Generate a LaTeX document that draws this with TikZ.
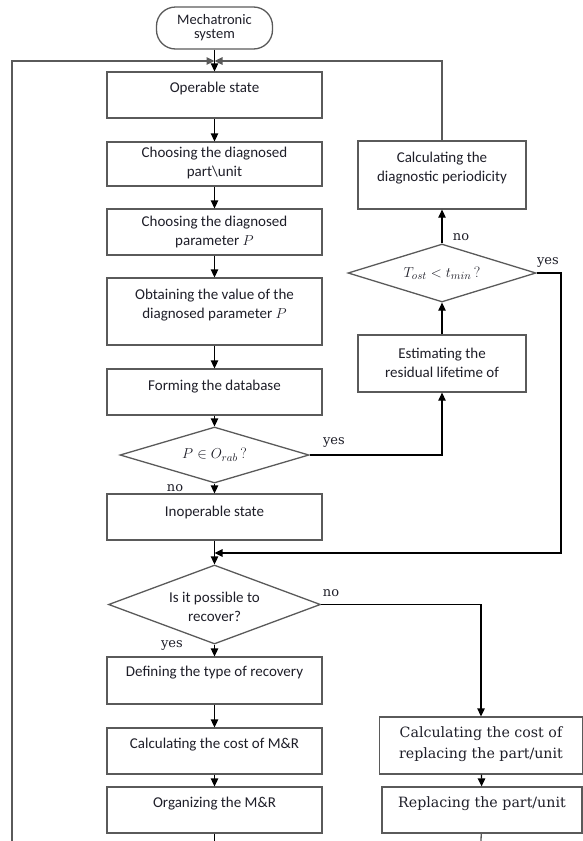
\documentclass[tikz,border=0pt]{standalone}
\usepackage{fontspec}
\setsansfont{Carlito}
\newfontfamily\serifb{DejaVu Serif}
\usetikzlibrary{arrows.meta,shapes.geometric,calc}
\definecolor{bord}{HTML}{5A5A5A}
\definecolor{txtc}{HTML}{1E1E28}
\begin{document}
\begin{tikzpicture}[x=1pt,y=-1pt,
  box/.style={draw=bord, line width=1.3pt, rectangle, inner sep=0pt},
  dia/.style={draw=bord, line width=1.3pt, diamond, inner sep=0pt, aspect=1},
  txt/.style={font=\sffamily\fontsize{15}{19}\selectfont, text=txtc, align=center, inner sep=0pt},
  stxt/.style={font=\serifb\fontsize{14.2}{21}\selectfont, text=txtc, align=center, inner sep=0pt},
  lbl/.style={font=\serifb\fontsize{13}{15}\selectfont, text=txtc, inner sep=0pt},
  arr/.style={line width=1.3pt, -{Triangle[length=8pt,width=7.5pt]}},
  ln/.style={line width=1.3pt},
  gln/.style={line width=1.3pt, draw=bord},
]
\useasboundingbox (0,0) rectangle (583,841);

% terminal
\node[draw=bord, line width=1.3pt, rounded corners=19pt, minimum width=116pt, minimum height=42pt, inner sep=0pt] (term) at (214.5,28) {};
\node[font=\sffamily\fontsize{14.5}{14}\selectfont, text=txtc, align=center, inner sep=0pt] (termT) at (214.5,27.5) {Mechatronic\\system};

% main column boxes
\node[box, minimum width=215pt, minimum height=46pt] (op) at (214.5,95) {};
\node[txt] (opT) at (214.5,88) {Operable state};
\node[box, minimum width=215pt, minimum height=44pt] (part) at (214.5,164) {};
\node[txt] (partT) at (214.5,163) {Choosing the diagnosed\\part\textbackslash unit};
\node[box, minimum width=215pt, minimum height=46pt] (param) at (214.5,232) {};
\node[txt] (paramT) at (214.5,232) {Choosing the diagnosed\\parameter $P$};
\node[box, minimum width=215pt, minimum height=67pt] (obt) at (214.5,311.5) {};
\node[txt] (obtT) at (214.5,305.5) {Obtaining the value of the\\diagnosed parameter $P$};
\node[box, minimum width=215pt, minimum height=46pt] (form) at (214.5,392) {};
\node[txt] (formT) at (214.5,387) {Forming the database};
\node[dia, minimum width=189pt, minimum height=56pt] (d1) at (214.5,455) {};
\node[font=\fontsize{15}{18}\selectfont, text=txtc, inner sep=0pt] (d1T) at (214.5,455) {$P \in O_{rab}\,$?};
\node[box, minimum width=215pt, minimum height=46pt] (inop) at (214.5,517) {};
\node[txt] (inopT) at (214.5,512) {Inoperable state};
\node[dia, minimum width=212pt, minimum height=79pt] (d2) at (214.5,604.5) {};
\node[txt] (d2T) at (214.5,607) {Is it possible to\\recover?};
\node[box, minimum width=215pt, minimum height=47pt] (def) at (214.5,680.5) {};
\node[txt] (defT) at (214.5,673) {Defining the type of recovery};
\node[box, minimum width=215pt, minimum height=46pt] (cost) at (214.5,751) {};
\node[txt] (costT) at (214.5,745) {Calculating the cost of M\&R};
\node[box, minimum width=215pt, minimum height=46pt] (org) at (214.5,810) {};
\node[txt] (orgT) at (214.5,804) {Organizing the M\&R};

% right column
\node[box, minimum width=168pt, minimum height=68pt] (diag) at (442,175) {};
\node[txt] (diagT) at (442,168.5) {Calculating the\\diagnostic periodicity};
\node[dia, minimum width=188pt, minimum height=58pt] (d3) at (442,273) {};
\node[font=\fontsize{15}{18}\selectfont, text=txtc, inner sep=0pt] (d3T) at (442,273) {$T_{ost} < t_{min}\,$?};
\node[box, minimum width=168pt, minimum height=57pt] (est) at (442,363.5) {};
\node[txt] (estT) at (442,362.5) {Estimating the\\residual lifetime of};
\node[box, minimum width=203pt, minimum height=57pt] (repc) at (481,745.5) {};
\node[stxt] (repcT) at (481,744.5) {Calculating the cost of\\replacing the part/unit};
\node[box, minimum width=200pt, minimum height=46pt] (repl) at (482,810) {};
\node[stxt] (replT) at (482,804) {Replacing the part/unit};

% coordinates
\coordinate (J1) at (214.5,61);
\coordinate (J2) at (214.5,553);
\coordinate (LB) at (12,841);
\coordinate (R1) at (561,273);
\coordinate (B1) at (214.5,841);
\coordinate (B2) at (481,841);

% connectors
\draw[arr] (term) -- (op);
\draw[gln, -{Triangle[length=8pt,width=7.5pt]}] (LB) |- (J1);
\draw[gln, -{Triangle[length=8pt,width=7.5pt]}] (diag.north) |- (J1);
\draw[arr] (op) -- (part);
\draw[arr] (part) -- (param);
\draw[arr] (param) -- (obt);
\draw[arr] (obt) -- (form);
\draw[arr] (form) -- (d1.north);
\draw[arr] (d1.south) -- (inop);
\draw[arr] (d1.east) -| (est.south);
\draw[arr] (est.north) -- (d3.south);
\draw[arr] (d3.north) -- (diag.south);
\draw[arr] (d3.east) -- (R1) |- (J2);
\draw[ln] (inop) -- (J2);
\draw[arr] (J2) -- (d2.north);
\draw[arr] (d2.south) -- (def);
\draw[arr] (def) -- (cost);
\draw[arr] (cost) -- (org);
\draw[ln] (org) -- (B1);
\draw[arr] (d2.east) -| (repc.north);
\draw[arr] (repc) -- (repl);
\draw[gln] (repl) -- (B2);

% labels
\node[lbl] (l1) at (334,442) {yes};
\node[lbl] (l2) at (175,488) {no};
\node[lbl] (l3) at (461,237) {no};
\node[lbl] (l4) at (548,262) {yes};
\node[lbl] (l5) at (331,593) {no};
\node[lbl] (l6) at (172,645) {yes};
\end{tikzpicture}
\end{document}
